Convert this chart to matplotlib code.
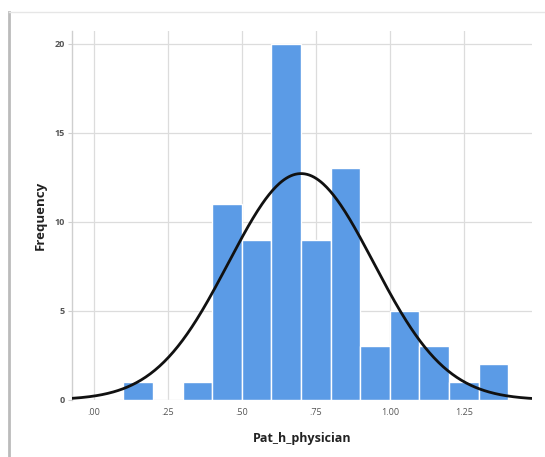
import numpy as np
import matplotlib
matplotlib.use("Agg")
import matplotlib.pyplot as plt
from matplotlib.lines import Line2D

# Data
bin_edges = [0.1, 0.2, 0.3, 0.4, 0.5, 0.6, 0.7, 0.8, 0.9, 1.0, 1.1, 1.2, 1.3, 1.4]
counts = [1, 0, 1, 11, 9, 20, 9, 13, 3, 5, 3, 1, 2]
curve_mean = 0.70
curve_sd = 0.245
x_ticks = [0.0, 0.25, 0.5, 0.75, 1.0, 1.25]
x_ticklabels = [".00", ".25", ".50", ".75", "1.00", "1.25"]
y_ticks = [0, 5, 10, 15, 20]
x_label = "Pat_h_physician"
y_label = "Frequency"

plt.rcParams['font.family'] = ['Open Sans', 'DejaVu Sans']

fig = plt.figure(figsize=(5.45, 4.57), dpi=100)
ax = fig.add_axes([0.132, 0.125, 0.844, 0.807])

lefts = bin_edges[:-1]
widths = np.diff(bin_edges)
ax.bar(lefts, counts, width=widths, align='edge', color='#5b9be6',
       edgecolor='white', linewidth=1.0, zorder=2)

n = sum(counts)
bw = bin_edges[1] - bin_edges[0]
xlim = (-0.074, 1.48)
xs = np.linspace(xlim[0], xlim[1], 400)
ys = n * bw / (curve_sd * np.sqrt(2 * np.pi)) * np.exp(-0.5 * ((xs - curve_mean) / curve_sd) ** 2)
ax.plot(xs, ys, color='#111111', linewidth=2.0, zorder=3, solid_capstyle='round')

ax.set_xlim(*xlim)
ax.set_ylim(0, 20.7)
ax.set_xticks(x_ticks)
ax.set_xticklabels(x_ticklabels)
ax.set_yticks(y_ticks)
ax.grid(True, color='#dcdcdc', linewidth=0.9, zorder=0)
ax.set_axisbelow(True)
for s in ['top', 'right', 'bottom']:
    ax.spines[s].set_visible(False)
ax.spines['left'].set_color('#cfcfcf')
ax.spines['left'].set_linewidth(1.0)
ax.tick_params(axis='x', length=0, labelsize=6.5, labelcolor='#555555', pad=6)
ax.tick_params(axis='y', length=3, color='#cfcfcf', labelsize=6.5, labelcolor='#555555', pad=2)
for lbl in ax.get_yticklabels():
    lbl.set_fontweight('bold')
ax.set_xlabel(x_label, fontsize=9, fontweight='bold', color='#222222', labelpad=11)
ax.set_ylabel(y_label, fontsize=9.5, fontweight='bold', color='#222222', labelpad=6)

# screenshot frame
fig.add_artist(Line2D([9/545, 9/545], [0, 1 - 12/457], color='#bbbbbb', linewidth=2.0, transform=fig.transFigure))
fig.add_artist(Line2D([9/545, 1], [1 - 12/457, 1 - 12/457], color='#e6e6e6', linewidth=1.0, transform=fig.transFigure))

fig.savefig("out.png", dpi=100)
